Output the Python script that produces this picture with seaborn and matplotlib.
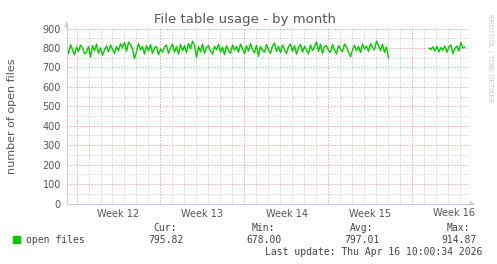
import numpy as np
import pandas as pd
import seaborn as sns
import matplotlib
matplotlib.use("Agg")
import matplotlib.pyplot as plt

# ---- data (days since start of window, 4-hour steps) ----
seg1_values = [
    812, 770, 818, 790, 765, 805, 782, 815, 800, 770,
    778, 808, 752, 812, 785, 820, 772, 800, 762, 790,
    810, 780, 815, 792, 772, 808, 785, 822, 800, 828,
    782, 830, 818, 795, 745, 780, 822, 790, 808, 768,
    812, 785, 818, 772, 800, 808, 765, 795, 778, 805,
    815, 772, 800, 820, 778, 808, 768, 818, 785, 812,
    776, 824, 795, 835, 812, 750, 808, 780, 820, 772,
    802, 812, 784, 768, 808, 790, 818, 778, 805, 765,
    812, 786, 772, 816, 788, 808, 778, 820, 795, 770,
    812, 784, 822, 792, 775, 814, 756, 808, 786, 778,
    818, 790, 772, 810, 826, 782, 808, 776, 815, 792,
    772, 806, 820, 782, 812, 768, 802, 818, 778, 808,
    790, 770, 816, 786, 806, 832, 782, 820, 772, 808,
    812, 786, 776, 818, 790, 770, 812, 794, 780, 820,
    806, 778, 755, 790, 815, 786, 808, 776, 820, 794,
    810, 782, 822, 802, 790, 836, 812, 786, 820, 776,
    805, 748,
]
seg2_values = [
    800, 792, 806, 785, 808, 780, 802, 788, 810, 778,
    805, 815, 770, 798, 810, 784, 828, 800, 806,
]
seg1_start = 0.0
seg2_start = 30.2
step = 1.0 / 6.0

week_labels = ["Week 12", "Week 13", "Week 14", "Week 15", "Week 16"]
first_week_line = 10.0 / 12.0
y_ticks = [0, 100, 200, 300, 400, 500, 600, 700, 800, 900]

legend_name = "open files"
stat_names = ["Cur:", "Min:", "Avg:", "Max:"]
stat_values = ["795.82", "678.00", "797.01", "914.87"]
last_update = "Last update: Thu Apr 16 10:00:34 2026"

df1 = pd.DataFrame({"day": seg1_start + step * np.arange(len(seg1_values)), "files": seg1_values})
df2 = pd.DataFrame({"day": seg2_start + step * np.arange(len(seg2_values)), "files": seg2_values})

W, H, DPI = 497, 264, 100
sns.set_style("white")
plt.rcParams["font.family"] = ["DejaVu Sans"]
fig = plt.figure(figsize=(W / DPI, H / DPI), dpi=DPI)
fig.patch.set_facecolor("white")

x0, x1 = 66.5, 469.5
ytop, ybot = 28.5, 203.5
ax = fig.add_axes([x0 / W, 1 - ybot / H, (x1 - x0) / W, (ybot - ytop) / H])
ax.set_facecolor("white")

xmax = (x1 - x0) / 12.0
ax.set_xlim(0, xmax)
ax.set_ylim(0, 900)

grid_gray = "#c0c0c0"
grid_red = "#f08080"
lw1 = 72.0 / DPI
dots = (0, (1, 2))
weeks = np.arange(first_week_line, xmax, 7.0)
days = np.arange(first_week_line % 1.0, xmax, 1.0)
for d in days:
    if np.min(np.abs(weeks - d)) > 0.01:
        ax.axvline(d, color=grid_gray, lw=lw1, ls=dots, zorder=0)
for v in range(50, 900, 100):
    ax.axhline(v, color=grid_gray, lw=lw1, ls=dots, zorder=0)
for d in weeks:
    ax.axvline(d, color=grid_red, lw=lw1, ls=dots, zorder=0.5)
for v in y_ticks[1:]:
    ax.axhline(v, color=grid_red, lw=lw1, ls=dots, zorder=0.5)

green = "#00cc00"
sns.lineplot(data=df1, x="day", y="files", ax=ax, color=green, lw=1.0, zorder=3)
sns.lineplot(data=df2, x="day", y="files", ax=ax, color=green, lw=1.0, zorder=3)

for s in ax.spines.values():
    s.set_visible(False)
axis_col = "#c8c8f0"
ax.plot([0, xmax + 0.3], [0, 0], color=axis_col, lw=lw1, clip_on=False, zorder=4)
ax.plot([0, 0], [0, 925], color=axis_col, lw=lw1, clip_on=False, zorder=4)
ax.fill([xmax, xmax, xmax + 0.42], [-14, 14, 0], color=axis_col, clip_on=False, zorder=4, lw=0)
ax.fill([-0.18, 0.18, 0], [905, 905, 940], color=axis_col, clip_on=False, zorder=4, lw=0)

ax.set_yticks(y_ticks)
ax.set_yticklabels([str(v) for v in y_ticks])
ax.set_xticks(weeks[:4] + 3.5)
ax.set_xticklabels(week_labels[:4])
ax.text(weeks[4] + 3.5, -22, week_labels[4], ha="center", va="top", fontsize=7, color="#555555")
ax.tick_params(axis="both", length=2, width=0.6, colors="#e08080", labelcolor="#555555", labelsize=7, pad=2)
ax.tick_params(axis="x", length=0, pad=4)
ax.set_xlabel("")
ax.set_ylabel("number of open files", fontsize=8, color="#555555")
ax.yaxis.set_label_coords(-(x0 - 17) / (x1 - x0), 0.5)

fig.text(245 / W, 1 - 19 / H, "File table usage - by month", ha="center", va="center", fontsize=9.5, color="#555555")
fig.text(490 / W, 1 - 58 / H, "RRDTOOL / TOBI OETIKER", rotation=-90, ha="center", va="center", fontsize=5, color="#c8c8c8")

mono = "DejaVu Sans Mono"
fig.patches.append(plt.Rectangle((13 / W, 1 - 243 / H), 7 / W, 7 / H, transform=fig.transFigure, color=green, figure=fig))
fig.text(26 / W, 1 - 240 / H, legend_name, ha="left", va="center", fontsize=7, family=mono, color="#444444")
name_right = [177, 275, 373, 470]
val_right = [184, 282, 380, 477]
for n, v, nr, vr in zip(stat_names, stat_values, name_right, val_right):
    fig.text(nr / W, 1 - 228 / H, n, ha="right", va="center", fontsize=7, family=mono, color="#444444")
    fig.text(vr / W, 1 - 240 / H, v, ha="right", va="center", fontsize=7, family=mono, color="#444444")
fig.text(482 / W, 1 - 252 / H, last_update, ha="right", va="center", fontsize=7, family=mono, color="#444444")

fig.savefig("out.png", dpi=DPI, facecolor="white")
